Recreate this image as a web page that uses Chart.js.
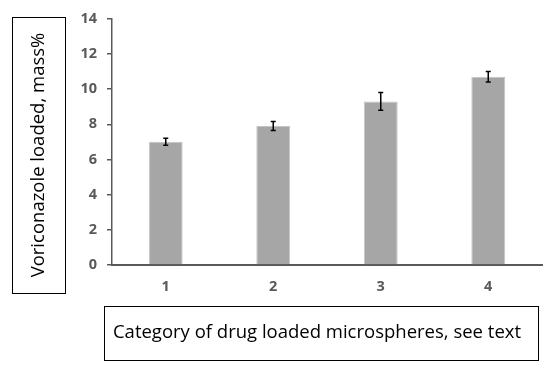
<!DOCTYPE html>
<html>
<head>
<meta charset="utf-8">
<script src="https://cdn.jsdelivr.net/npm/chart.js@4"></script>
<style>
  html, body { margin: 0; padding: 0; background: #fff; }
  #wrap { width: 550px; height: 368px; }
</style>
</head>
<body>
<div id="wrap"><canvas id="bar" width="550" height="368"></canvas></div>
<script>
// data
var categories = ['1', '2', '3', '4'];
var loaded = [7.0, 7.9, 9.3, 10.7];
var errors = [0.2, 0.25, 0.5, 0.3];
var yTicks = [0, 2, 4, 6, 8, 10, 12, 14];

var yTitle = 'Voriconazole loaded, mass%';
var xTitle = 'Category of drug loaded microspheres, see text';

var axisColor = '#595959';

// error bars, drawn through the scales
var errorBars = {
    id: 'errorBars',
    afterDatasetsDraw: function (chart) {
        var c = chart.ctx;
        var x = chart.scales.x, y = chart.scales.y;
        c.save();
        c.strokeStyle = '#000';
        c.lineWidth = 1.5;
        loaded.forEach(function (v, i) {
            var px = x.getPixelForValue(i);
            var hi = y.getPixelForValue(v + errors[i]);
            var lo = y.getPixelForValue(v - errors[i]);
            c.beginPath();
            c.moveTo(px, hi); c.lineTo(px, lo);
            c.moveTo(px - 2.5, hi); c.lineTo(px + 2.5, hi);
            c.moveTo(px - 2.5, lo); c.lineTo(px + 2.5, lo);
            c.stroke();
        });
        c.restore();
    }
};

// boxed axis titles
var boxedTitles = {
    id: 'boxedTitles',
    afterDraw: function (chart) {
        var c = chart.ctx;
        c.save();
        c.strokeStyle = '#000';
        c.lineWidth = 1;
        c.strokeRect(12.5, 17.5, 53, 276);
        c.strokeRect(104.5, 306.5, 434, 54);
        c.fillStyle = '#000';
        c.font = '18.5px "Open Sans", sans-serif';
        c.textAlign = 'center';
        c.textBaseline = 'middle';
        c.fillText(xTitle, 317, 333);
        c.translate(39, 155);
        c.rotate(-Math.PI / 2);
        c.fillText(yTitle, 0, 0);
        c.restore();
    }
};

new Chart(document.getElementById('bar'), {
    type: 'bar',
    data: {
        labels: categories,
        datasets: [{
            data: loaded,
            backgroundColor: '#a6a6a6',
            borderColor: '#c4c4c4',
            borderWidth: 1,
            barPercentage: 0.63,
            categoryPercentage: 0.5
        }]
    },
    options: {
        responsive: false,
        animation: false,
        layout: { padding: { top: 13, right: 8, left: 0, bottom: 0 } },
        plugins: {
            legend: { display: false },
            tooltip: { enabled: false }
        },
        scales: {
            x: {
                grid: { display: false, drawTicks: false },
                border: { display: true, color: axisColor, width: 2 },
                ticks: {
                    color: axisColor,
                    padding: 13,
                    font: { family: '"Open Sans", sans-serif', size: 14.5, weight: 'bold' }
                },
                afterFit: function (s) { s.height = 103; }
            },
            y: {
                min: 0,
                max: 14,
                afterBuildTicks: function (s) {
                    s.ticks = yTicks.map(function (v) { return { value: v }; });
                },
                grid: {
                    display: true,
                    drawOnChartArea: false,
                    drawTicks: true,
                    tickLength: 5,
                    color: axisColor,
                    lineWidth: 1.5
                },
                border: { display: true, color: axisColor, width: 1.5 },
                ticks: {
                    color: axisColor,
                    padding: 10,
                    font: { family: '"Open Sans", sans-serif', size: 14.5, weight: 'bold' }
                },
                afterFit: function (s) { s.width = 112; }
            }
        }
    },
    plugins: [errorBars, boxedTitles]
});
</script>
</body>
</html>
